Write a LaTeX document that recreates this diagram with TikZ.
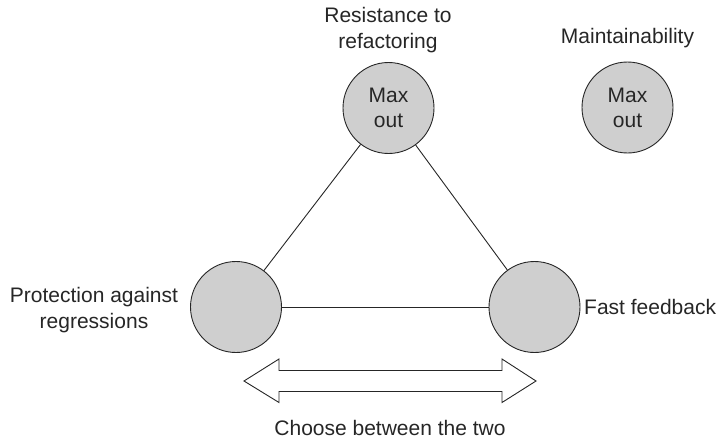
\documentclass[tikz,border=0pt]{standalone}
\usepackage{fontspec}
\setmainfont{Liberation Sans}
\begin{document}
\begin{tikzpicture}[x=1pt,y=-1pt,
  ball/.style={circle,draw=black!85,fill=black!19,line width=0.9pt,minimum size=91pt,inner sep=0pt,align=center,font=\fontsize{21}{25}\selectfont,text=black!85},
  lbl/.style={align=center,inner sep=0pt,font=\fontsize{21}{25.5}\selectfont,text=black!85},
  conn/.style={draw=black!85,line width=0.9pt}]
\useasboundingbox (0,0) rectangle (721,439);
\node[ball] (top) at (388.5,108) {Max\\out};
\node[ball] (maint) at (627.5,107.5) {Max\\out};
\node[ball] (bl) at (236,307) {};
\node[ball] (br) at (534.5,307) {};
\node[lbl] (ttop) at (388,30) {Resistance to\\refactoring};
\node[lbl] (tmaint) at (627.5,38) {Maintainability};
\node[lbl] (tbl) at (94,310) {Protection against\\regressions};
\node[lbl,anchor=west] (tbr) at (584,307) {Fast feedback};
\node[lbl] (tchoose) at (390,428) {Choose between the two};
\draw[conn] (top) -- (bl);
\draw[conn] (top) -- (br);
\draw[conn] (bl) -- (br);
\draw[conn,fill=white] (244,381) -- (279,359) -- (279,370.5) -- (502,370.5) -- (502,359) -- (536,381)
  -- (502,402.5) -- (502,391.5) -- (279,391.5) -- (279,402.5) -- cycle;
\end{tikzpicture}
\end{document}
